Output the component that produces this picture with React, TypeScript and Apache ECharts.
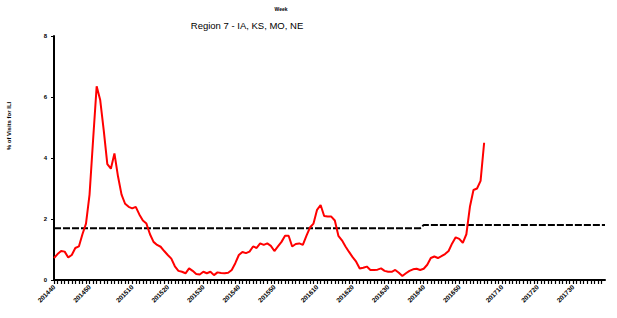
import React, { useEffect, useRef } from "react";
import * as echarts from "echarts";

// Seasons shown (start year of each season, MMWR week 40 to week 39)
const seasonStartYears = [2014, 2015, 2016];
// Regional baseline per season (% ILI)
const baselineBySeason = [1.7, 1.7, 1.8];
// Weekly % of visits for ILI, Region 7, from week 40 of 2014
const iliValues = [
  0.72, 0.85, 0.95, 0.93, 0.74, 0.82, 1.05, 1.1, 1.5, 1.85,
  2.8, 4.6, 6.35, 5.9, 4.9, 3.8, 3.65, 4.15, 3.4, 2.8,
  2.5, 2.4, 2.35, 2.4, 2.15, 1.95, 1.85, 1.5, 1.25, 1.15,
  1.09, 0.95, 0.82, 0.7, 0.45, 0.3, 0.27, 0.22, 0.38, 0.3,
  0.2, 0.18, 0.27, 0.22, 0.27, 0.16, 0.25, 0.23, 0.22, 0.24,
  0.33, 0.55, 0.82, 0.92, 0.88, 0.93, 1.1, 1.05, 1.2, 1.15,
  1.2, 1.12, 0.95, 1.1, 1.25, 1.45, 1.45, 1.1, 1.18, 1.2,
  1.15, 1.45, 1.72, 1.85, 2.3, 2.46, 2.1, 2.08, 2.08, 1.95,
  1.45, 1.3, 1.1, 0.92, 0.75, 0.6, 0.38, 0.4, 0.44, 0.33,
  0.33, 0.34, 0.38, 0.3, 0.27, 0.27, 0.33, 0.24, 0.13, 0.22,
  0.3, 0.35, 0.37, 0.33, 0.37, 0.5, 0.72, 0.77, 0.72, 0.78,
  0.85, 0.95, 1.2, 1.4, 1.35, 1.22, 1.5, 2.4, 2.95, 3.0,
  3.25, 4.5,
];
const yTicks = [0, 2, 4, 6, 8];

const weekCategories: string[] = [];
const baselineValues: number[] = [];
seasonStartYears.forEach((y, s) => {
  for (let w = 40; w <= 52; w++) {
    weekCategories.push(`${y}${String(w).padStart(2, "0")}`);
    baselineValues.push(baselineBySeason[s]);
  }
  for (let w = 1; w <= 39; w++) {
    weekCategories.push(`${y + 1}${String(w).padStart(2, "0")}`);
    baselineValues.push(baselineBySeason[s]);
  }
});

export default function App() {
  const ref = useRef<HTMLDivElement>(null);
  useEffect(() => {
    document.body.style.margin = "0";
    if (!ref.current) return;
    const chart = echarts.init(ref.current, undefined, { renderer: "svg" });
    chart.setOption({
      animation: false,
      backgroundColor: "#ffffff",
      textStyle: { fontFamily: "Liberation Sans, Arial, sans-serif" },
      title: [
        {
          text: "Region 7 - IA, KS, MO, NE",
          left: 242,
          top: 15,
          textAlign: "center",
          textStyle: { fontSize: 9.5, fontWeight: "normal", color: "#000" },
        },
        {
          text: "Week",
          left: 276,
          top: 1,
          textAlign: "center",
          textStyle: { fontSize: 5, fontWeight: "bold", color: "#000" },
        },
      ],
      graphic: [
        {
          type: "text",
          x: 9,
          y: 126,
          rotation: Math.PI / 2,
          style: {
            text: "% of Visits for ILI",
            fontSize: 6,
            fontWeight: "bold",
            fill: "#000",
            align: "center",
            verticalAlign: "middle",
            fontFamily: "Liberation Sans, Arial, sans-serif",
          },
        },
      ],
      grid: { left: 54, right: 12, top: 36, bottom: 38, containLabel: false },
      xAxis: {
        type: "value",
        min: 0,
        max: weekCategories.length - 1,
        interval: 1,
        axisLine: { show: true, onZero: false, lineStyle: { color: "#000", width: 2 } },
        axisTick: {
          show: true,
          length: 4,
          lineStyle: { color: "#000", width: 1.2 },
        },
        axisLabel: {
          rotate: 45,
          fontSize: 6.5,
          fontWeight: "bold",
          color: "#000",
          margin: 6,
          showMinLabel: true,
          showMaxLabel: false,
          formatter: (v: number) => {
            const c = weekCategories[Math.round(v)];
            return c && Number(c.slice(4)) % 10 === 0 ? c : "";
          },
        },
        splitLine: { show: false },
      },
      yAxis: {
        type: "value",
        min: 0,
        max: 8,
        interval: 2,
        axisLine: { show: true, lineStyle: { color: "#000", width: 2 } },
        axisTick: { show: true, length: 3, lineStyle: { color: "#000" } },
        axisLabel: {
          fontSize: 6,
          fontWeight: "bold",
          color: "#000",
          margin: 7,
          formatter: (v: number) => (yTicks.includes(v) ? String(v) : ""),
        },
        splitLine: { show: false },
      },
      series: [
        {
          type: "line",
          data: baselineValues.map((v, i) => [i, v]),
          showSymbol: false,
          lineStyle: { color: "#000", width: 2, type: [7, 2] },
          z: 2,
        },
        {
          type: "line",
          data: iliValues.map((v, i) => [i, v]),
          showSymbol: false,
          lineStyle: { color: "#ff0000", width: 2 },
          z: 3,
        },
      ],
    });
    return () => chart.dispose();
  }, []);
  return <div ref={ref} style={{ width: 617, height: 318 }} />;
}
